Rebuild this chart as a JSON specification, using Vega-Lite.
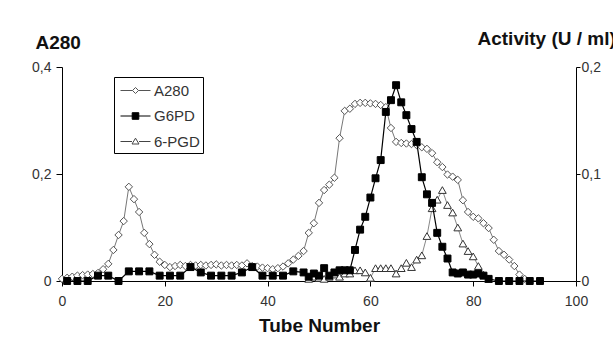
{
  "$schema": "https://vega.github.io/schema/vega-lite/v6.json",
  "width": 514,
  "height": 214,
  "autosize": {"type": "none"},
  "padding": {"left": 62, "top": 67, "right": 37, "bottom": 56},
  "background": "white",
  "config": {
    "view": {"stroke": null},
    "font": "Liberation Sans",
    "axis": {"grid": false, "domainColor": "#000", "tickColor": "#000", "labelColor": "#333", "labelFontSize": 14, "labelFont": "Liberation Sans", "titleFont": "Liberation Sans", "titleFontSize": 19, "titleFontWeight": "bold", "titleColor": "#111"},
    "legend": {"orient": "none", "legendX": 52, "legendY": 10, "strokeColor": "#000", "fillColor": "white", "padding": 3, "symbolSize": 400, "labelFontSize": 15, "labelColor": "#333", "labelOffset": 16, "rowPadding": 6.5, "symbolStrokeWidth": 1}
  },
  "data": {"values": [
    {"tube":0,"series":"A280","value":0.004},{"tube":1,"series":"A280","value":0.006},{"tube":2,"series":"A280","value":0.008},{"tube":3,"series":"A280","value":0.010},{"tube":4,"series":"A280","value":0.011},{"tube":5,"series":"A280","value":0.012},{"tube":6,"series":"A280","value":0.013},{"tube":7,"series":"A280","value":0.015},{"tube":8,"series":"A280","value":0.022},{"tube":9,"series":"A280","value":0.032},
    {"tube":10,"series":"A280","value":0.058},{"tube":11,"series":"A280","value":0.086},{"tube":12,"series":"A280","value":0.112},{"tube":13,"series":"A280","value":0.176},{"tube":14,"series":"A280","value":0.153},{"tube":15,"series":"A280","value":0.129},{"tube":16,"series":"A280","value":0.090},{"tube":17,"series":"A280","value":0.069},{"tube":18,"series":"A280","value":0.049},{"tube":19,"series":"A280","value":0.036},
    {"tube":20,"series":"A280","value":0.030},{"tube":21,"series":"A280","value":0.026},{"tube":22,"series":"A280","value":0.028},{"tube":23,"series":"A280","value":0.030},{"tube":24,"series":"A280","value":0.028},{"tube":25,"series":"A280","value":0.030},{"tube":26,"series":"A280","value":0.029},{"tube":27,"series":"A280","value":0.030},{"tube":28,"series":"A280","value":0.029},{"tube":29,"series":"A280","value":0.030},
    {"tube":30,"series":"A280","value":0.031},{"tube":31,"series":"A280","value":0.029},{"tube":32,"series":"A280","value":0.030},{"tube":33,"series":"A280","value":0.029},{"tube":34,"series":"A280","value":0.030},{"tube":35,"series":"A280","value":0.029},{"tube":36,"series":"A280","value":0.033},{"tube":37,"series":"A280","value":0.028},{"tube":38,"series":"A280","value":0.027},{"tube":39,"series":"A280","value":0.025},
    {"tube":40,"series":"A280","value":0.024},{"tube":41,"series":"A280","value":0.022},{"tube":42,"series":"A280","value":0.024},{"tube":43,"series":"A280","value":0.027},{"tube":44,"series":"A280","value":0.033},{"tube":45,"series":"A280","value":0.040},{"tube":46,"series":"A280","value":0.047},{"tube":47,"series":"A280","value":0.056},{"tube":48,"series":"A280","value":0.090},{"tube":49,"series":"A280","value":0.108},
    {"tube":50,"series":"A280","value":0.146},{"tube":51,"series":"A280","value":0.170},{"tube":52,"series":"A280","value":0.180},{"tube":53,"series":"A280","value":0.193},{"tube":54,"series":"A280","value":0.267},{"tube":55,"series":"A280","value":0.318},{"tube":56,"series":"A280","value":0.322},{"tube":57,"series":"A280","value":0.331},{"tube":58,"series":"A280","value":0.333},{"tube":59,"series":"A280","value":0.333},
    {"tube":60,"series":"A280","value":0.332},{"tube":61,"series":"A280","value":0.331},{"tube":62,"series":"A280","value":0.329},{"tube":63,"series":"A280","value":0.325},{"tube":64,"series":"A280","value":0.286},{"tube":65,"series":"A280","value":0.260},{"tube":66,"series":"A280","value":0.258},{"tube":67,"series":"A280","value":0.257},{"tube":68,"series":"A280","value":0.256},{"tube":69,"series":"A280","value":0.254},
    {"tube":70,"series":"A280","value":0.250},{"tube":71,"series":"A280","value":0.247},{"tube":72,"series":"A280","value":0.239},{"tube":73,"series":"A280","value":0.222},{"tube":74,"series":"A280","value":0.213},{"tube":75,"series":"A280","value":0.199},{"tube":76,"series":"A280","value":0.195},{"tube":77,"series":"A280","value":0.189},{"tube":78,"series":"A280","value":0.151},{"tube":79,"series":"A280","value":0.129},
    {"tube":80,"series":"A280","value":0.120},{"tube":81,"series":"A280","value":0.117},{"tube":82,"series":"A280","value":0.108},{"tube":83,"series":"A280","value":0.099},{"tube":84,"series":"A280","value":0.077},{"tube":85,"series":"A280","value":0.056},{"tube":86,"series":"A280","value":0.049},{"tube":87,"series":"A280","value":0.040},{"tube":88,"series":"A280","value":0.028},{"tube":89,"series":"A280","value":0.012},{"tube":90,"series":"A280","value":0.004},

    {"tube":1,"series":"G6PD","value":0.0},{"tube":3,"series":"G6PD","value":0.0},{"tube":5,"series":"G6PD","value":0.0},{"tube":7,"series":"G6PD","value":0.005},{"tube":9,"series":"G6PD","value":0.005},{"tube":11,"series":"G6PD","value":0.0},{"tube":13,"series":"G6PD","value":0.009},{"tube":15,"series":"G6PD","value":0.009},{"tube":17,"series":"G6PD","value":0.009},{"tube":19,"series":"G6PD","value":0.005},
    {"tube":21,"series":"G6PD","value":0.005},{"tube":23,"series":"G6PD","value":0.005},{"tube":25,"series":"G6PD","value":0.013},{"tube":27,"series":"G6PD","value":0.008},{"tube":29,"series":"G6PD","value":0.005},{"tube":31,"series":"G6PD","value":0.005},{"tube":33,"series":"G6PD","value":0.005},{"tube":35,"series":"G6PD","value":0.008},{"tube":37,"series":"G6PD","value":0.013},{"tube":39,"series":"G6PD","value":0.005},
    {"tube":41,"series":"G6PD","value":0.005},{"tube":43,"series":"G6PD","value":0.005},{"tube":45,"series":"G6PD","value":0.009},{"tube":47,"series":"G6PD","value":0.008},{"tube":48,"series":"G6PD","value":0.004},{"tube":49,"series":"G6PD","value":0.007},{"tube":50,"series":"G6PD","value":0.005},{"tube":51,"series":"G6PD","value":0.012},{"tube":52,"series":"G6PD","value":0.005},{"tube":53,"series":"G6PD","value":0.008},
    {"tube":54,"series":"G6PD","value":0.010},{"tube":55,"series":"G6PD","value":0.010},{"tube":56,"series":"G6PD","value":0.010},{"tube":57,"series":"G6PD","value":0.029},{"tube":58,"series":"G6PD","value":0.048},{"tube":59,"series":"G6PD","value":0.060},{"tube":60,"series":"G6PD","value":0.078},{"tube":61,"series":"G6PD","value":0.096},{"tube":62,"series":"G6PD","value":0.113},{"tube":63,"series":"G6PD","value":0.158},
    {"tube":64,"series":"G6PD","value":0.169},{"tube":65,"series":"G6PD","value":0.183},{"tube":66,"series":"G6PD","value":0.167},{"tube":67,"series":"G6PD","value":0.155},{"tube":68,"series":"G6PD","value":0.142},{"tube":69,"series":"G6PD","value":0.130},{"tube":70,"series":"G6PD","value":0.097},{"tube":71,"series":"G6PD","value":0.081},{"tube":72,"series":"G6PD","value":0.073},{"tube":73,"series":"G6PD","value":0.045},
    {"tube":74,"series":"G6PD","value":0.032},{"tube":75,"series":"G6PD","value":0.021},{"tube":76,"series":"G6PD","value":0.008},{"tube":77,"series":"G6PD","value":0.007},{"tube":78,"series":"G6PD","value":0.008},{"tube":79,"series":"G6PD","value":0.006},{"tube":80,"series":"G6PD","value":0.006},{"tube":81,"series":"G6PD","value":0.007},{"tube":82,"series":"G6PD","value":0.005},{"tube":83,"series":"G6PD","value":0.002},
    {"tube":85,"series":"G6PD","value":0.0},{"tube":87,"series":"G6PD","value":0.0},{"tube":89,"series":"G6PD","value":0.0},{"tube":91,"series":"G6PD","value":0.0},{"tube":93,"series":"G6PD","value":0.0},

    {"tube":48,"series":"6-PGD","value":0.002},{"tube":49,"series":"6-PGD","value":0.004},{"tube":50,"series":"6-PGD","value":0.003},{"tube":51,"series":"6-PGD","value":0.002},{"tube":52,"series":"6-PGD","value":0.004},{"tube":53,"series":"6-PGD","value":0.006},{"tube":54,"series":"6-PGD","value":0.004},{"tube":55,"series":"6-PGD","value":0.007},{"tube":56,"series":"6-PGD","value":0.007},{"tube":57,"series":"6-PGD","value":0.010},
    {"tube":58,"series":"6-PGD","value":0.010},{"tube":59,"series":"6-PGD","value":0.008},{"tube":60,"series":"6-PGD","value":0.003},{"tube":61,"series":"6-PGD","value":0.012},{"tube":62,"series":"6-PGD","value":0.012},{"tube":63,"series":"6-PGD","value":0.012},{"tube":64,"series":"6-PGD","value":0.012},{"tube":65,"series":"6-PGD","value":0.007},{"tube":66,"series":"6-PGD","value":0.012},{"tube":67,"series":"6-PGD","value":0.017},
    {"tube":68,"series":"6-PGD","value":0.013},{"tube":69,"series":"6-PGD","value":0.020},{"tube":70,"series":"6-PGD","value":0.024},{"tube":71,"series":"6-PGD","value":0.042},{"tube":72,"series":"6-PGD","value":0.068},{"tube":73,"series":"6-PGD","value":0.076},{"tube":74,"series":"6-PGD","value":0.085},{"tube":75,"series":"6-PGD","value":0.071},{"tube":76,"series":"6-PGD","value":0.064},{"tube":77,"series":"6-PGD","value":0.050},
    {"tube":78,"series":"6-PGD","value":0.035},{"tube":79,"series":"6-PGD","value":0.028},{"tube":80,"series":"6-PGD","value":0.023},{"tube":81,"series":"6-PGD","value":0.014},{"tube":82,"series":"6-PGD","value":0.006},{"tube":83,"series":"6-PGD","value":0.002}
  ]},
  "encoding": {
    "x": {"field": "tube", "type": "quantitative", "scale": {"domain": [0, 100], "nice": false},
      "axis": {"values": [0, 20, 40, 60, 80, 100], "title": "Tube Number", "tickSize": 5, "labelPadding": 8, "titlePadding": 8, "labelFlush": false}}
  },
  "layer": [
    {
      "transform": [{"filter": "datum.series === 'A280'"}],
      "encoding": {
        "y": {"field": "value", "type": "quantitative", "scale": {"domain": [0, 0.4], "nice": false},
          "axis": {"orient": "left", "values": [0, 0.2, 0.4], "format": ".1~f", "labelExpr": "replace(datum.label, '.', ',')", "tickSize": 6, "labelPadding": 5, "title": "A280", "titleAngle": 0, "titleAlign": "left", "titleBaseline": "alphabetic", "titleX": -27, "titleY": -19}}
      },
      "layer": [
        {"mark": {"type": "line", "color": "#777", "strokeWidth": 1}},
        {"mark": {"type": "point", "shape": "diamond", "filled": true, "fill": "white", "stroke": "#555", "strokeWidth": 1, "size": 55, "opacity": 1}}
      ]
    },
    {
      "encoding": {
        "y": {"field": "value", "type": "quantitative", "scale": {"domain": [0, 0.2], "nice": false},
          "axis": {"orient": "right", "values": [0, 0.1, 0.2], "format": ".1~f", "labelExpr": "replace(datum.label, '.', ',')", "tickSize": 4, "labelPadding": 1, "title": "Activity (U / ml)", "titleAngle": 0, "titleAlign": "left", "titleBaseline": "alphabetic", "titleX": -99, "titleY": -23}}
      },
      "layer": [
        {"transform": [{"filter": "datum.series === '6-PGD'"}], "mark": {"type": "line", "color": "#888", "strokeWidth": 1}},
        {"transform": [{"filter": "datum.series === '6-PGD'"}], "mark": {"type": "point", "shape": "triangle-up", "filled": true, "fill": "white", "stroke": "#333", "strokeWidth": 1, "size": 60, "opacity": 1}},
        {"transform": [{"filter": "datum.series === 'G6PD'"}], "mark": {"type": "line", "color": "#000", "strokeWidth": 1.2}},
        {"transform": [{"filter": "datum.series === 'G6PD'"}], "mark": {"type": "point", "shape": "square", "filled": true, "fill": "#000", "stroke": "#000", "strokeWidth": 1, "size": 48, "opacity": 1}}
      ]
    },
    {
      "mark": {"type": "point", "filled": true, "strokeWidth": 1, "size": 0, "opacity": 1},
      "encoding": {
        "shape": {"field": "series", "type": "nominal", "title": null,
          "scale": {"domain": ["A280", "G6PD", "6-PGD"], "range": ["M-0.7,0H0.5M1.1,0H2.3M0.5,0L0.8,-0.3L1.1,0L0.8,0.3Z", "M-0.7,0H2.3M0.47,-0.33H1.13V0.33H0.47Z", "M-0.7,0H0.45M1.15,0H2.3M0.45,0.25L0.8,-0.33L1.15,0.25Z"]},
          "legend": {"title": null, "labelExpr": "datum.label + '  '"}},
        "fill": {"field": "series", "type": "nominal", "title": null,
          "scale": {"domain": ["A280", "G6PD", "6-PGD"], "range": ["#ffffff", "#000000", "#ffffff"]},
          "legend": {"title": null, "labelExpr": "datum.label + '  '"}},
        "stroke": {"field": "series", "type": "nominal", "title": null,
          "scale": {"domain": ["A280", "G6PD", "6-PGD"], "range": ["#555555", "#000000", "#444444"]},
          "legend": {"title": null, "labelExpr": "datum.label + '  '"}}
      }
    }
  ],
  "resolve": {"scale": {"y": "independent"}}
}
